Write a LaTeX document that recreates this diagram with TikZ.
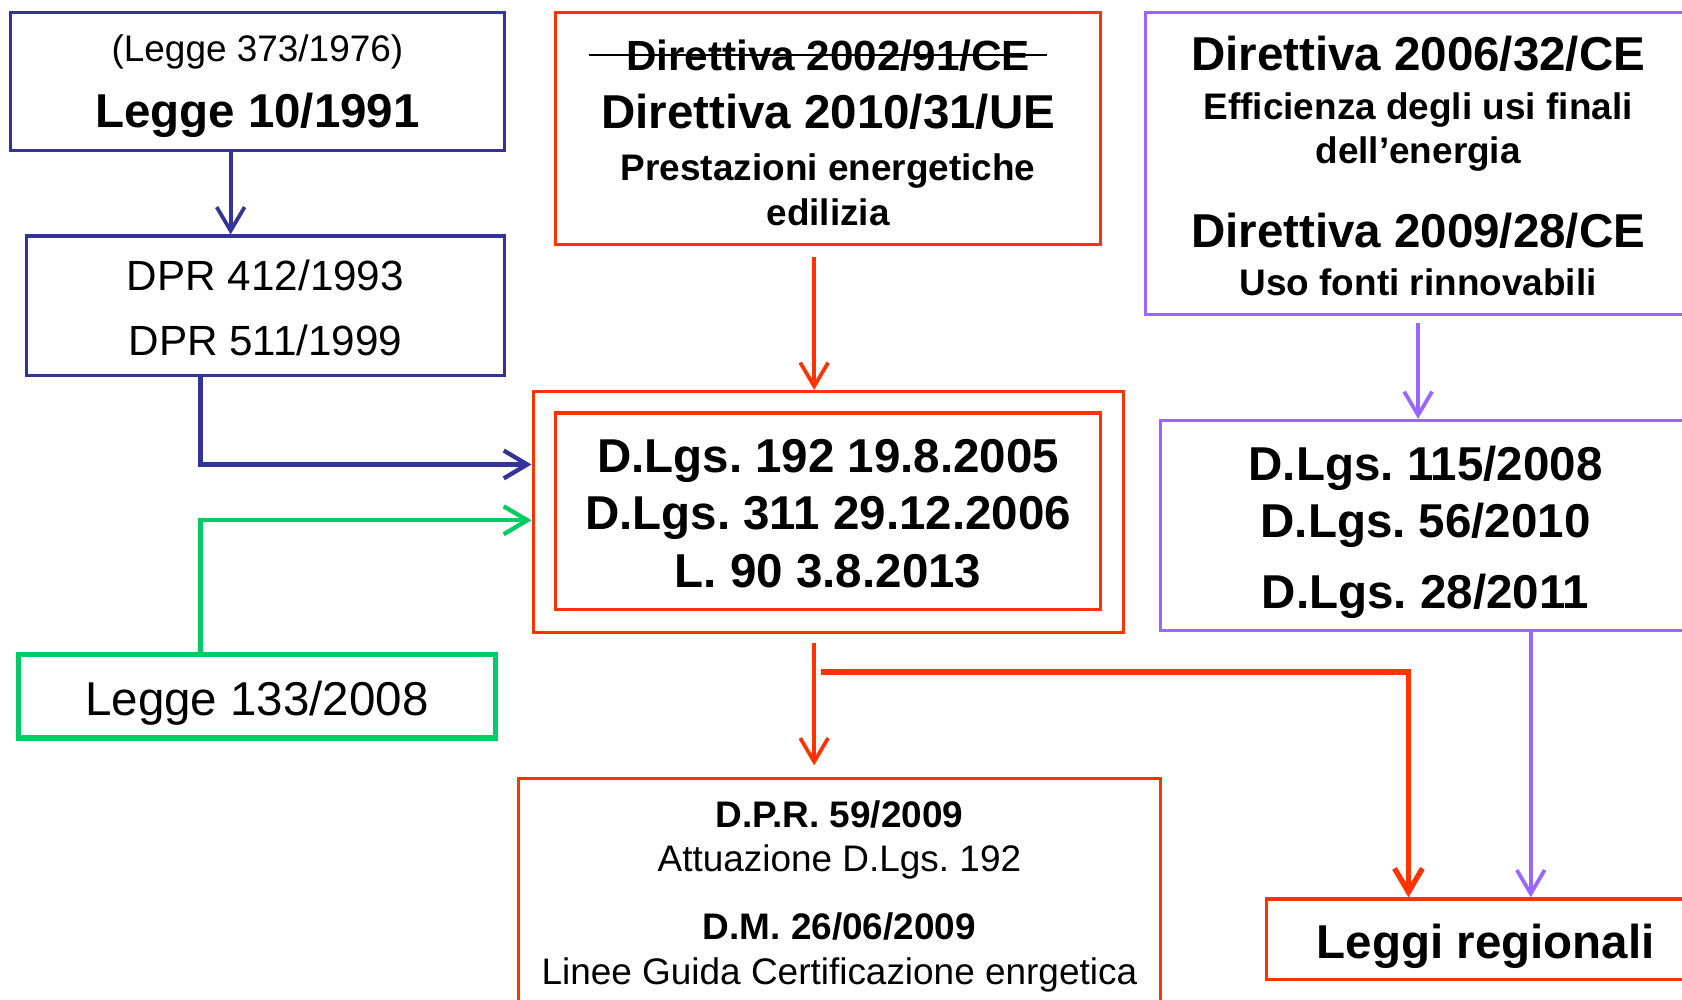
\documentclass[tikz,border=0pt]{standalone}
\usepackage{fontspec}
\setmainfont{Liberation Sans}
\usetikzlibrary{arrows.meta}
\frenchspacing
\definecolor{navy}{HTML}{333399}
\definecolor{rosso}{HTML}{FF3300}
\definecolor{viola}{HTML}{9966FF}
\definecolor{verde}{HTML}{00CC66}
\newcommand{\txtS}{\fontsize{9.8}{0}\selectfont}
\newcommand{\txtM}{\fontsize{11.2}{0}\selectfont}
\newcommand{\txtL}{\fontsize{12.6}{0}\selectfont}
\newcommand{\tightlines}{\baselineskip=0pt\lineskiplimit=-100pt\lineskip=0pt}
\newcommand{\struck}[1]{\makebox[0pt][l]{\hspace{-3.5mm}\rule[1.4mm]{42.7mm}{0.2mm}}#1}

\begin{document}
\begin{tikzpicture}[x=0.1mm,y=-0.1mm,
  >={Straight Barb[length=2.2mm,width=2.6mm]},
  box/.style={draw,line width=0.3mm,inner sep=0pt,align=center,text=black,font=\tightlines},
  link/.style={->,line width=0.35mm}]
\useasboundingbox (0,0) rectangle (1568,932);
\clip (0,0) rectangle (1568,932);

\node[box,draw=navy,minimum width=46mm,minimum height=12.8mm] (leggeA) at (240,76) {{}\\[2.44mm]\txtS (Legge 373/1976)\\[6.15mm]\txtL\bfseries Legge 10/1991\\[0mm]{}};
\node[box,draw=navy,minimum width=44.5mm,minimum height=13mm] (dpr) at (247.5,285) {{}\\[3.22mm]\txtM DPR 412/1993\\[6mm]\txtM DPR 511/1999\\[0mm]{}};
\node[box,draw=verde,line width=0.5mm,minimum width=44.5mm,minimum height=7.8mm] (leggeC) at (239.5,649) {{}\\[3.58mm]\txtL Legge 133/2008\\[0mm]{}};

\node[box,draw=rosso,minimum width=50.8mm,minimum height=21.6mm] (dirA) at (772,120) {{}\\[3.65mm]\txtM\bfseries\struck{Direttiva 2002/91/CE}\\[5.38mm]\txtL\bfseries Direttiva 2010/31/UE\\[4.85mm]\txtS\bfseries Prestazioni energetiche\\[4.2mm]\txtS\bfseries edilizia\\[0mm]{}};
\node[box,draw=rosso,minimum width=55mm,minimum height=22.5mm] (dlgsOut) at (772,477.5) {};
\node[box,draw=rosso,minimum width=50.8mm,minimum height=18.3mm] (dlgsIn) at (772,476.5) {{}\\[3.58mm]\txtL\bfseries D.Lgs. 192 19.8.2005\\[5.3mm]\txtL\bfseries D.Lgs. 311 29.12.2006\\[5.4mm]\txtL\bfseries L. 90 3.8.2013\\[0mm]{}};
\node[box,draw=rosso,minimum width=59.9mm,minimum height=21.2mm] (dprC) at (782.5,832) {{}\\[2.48mm]\txtS\bfseries D.P.R. 59/2009\\[4.1mm]\txtS Attuazione D.Lgs. 192\\[6.3mm]\txtS\bfseries D.M. 26/06/2009\\[4.2mm]\txtS Linee Guida Certificazione enrgetica\\[0mm]{}};

\node[box,draw=viola,minimum width=50.8mm,minimum height=28.1mm] (dirB) at (1322,152.5) {{}\\[3.63mm]\txtL\bfseries Direttiva 2006/32/CE\\[4.55mm]\txtS\bfseries Efficienza degli usi finali\\[4.1mm]\txtS\bfseries dell’energia\\[7.85mm]\txtL\bfseries Direttiva 2009/28/CE\\[4.45mm]\txtS\bfseries Uso fonti rinnovabili\\[0mm]{}};
\node[box,draw=viola,minimum width=49.4mm,minimum height=19.6mm] (dlgsB) at (1329,490) {{}\\[3.48mm]\txtL\bfseries D.Lgs. 115/2008\\[5.3mm]\txtL\bfseries D.Lgs. 56/2010\\[6.6mm]\txtL\bfseries D.Lgs. 28/2011\\[0mm]{}};
\node[box,draw=rosso,minimum width=40.8mm,minimum height=7.5mm] (leggiReg) at (1385,875.5) {{}\\[3.68mm]\txtL\bfseries Leggi regionali\\[0mm]{}};

\draw[link,navy] ([xshift=-2.5mm]leggeA.south) coordinate (a1) -- (a1 |- dpr.north);
\draw[link,navy,line width=0.4mm] ([xshift=-6.05mm]dpr.south) |- ([yshift=4.45mm]dlgsOut.west);
\draw[link,verde,line width=0.4mm] ([xshift=-5.25mm]leggeC.north) |- ([yshift=-0.75mm]dlgsOut.west);
\draw[link,rosso,shorten <=1mm] ([xshift=-1.3mm]dirA.south) -- ([xshift=-1.3mm]dlgsOut.north);
\draw[link,viola,shorten <=0.7mm] (dirB.south) -- (dirB.south |- dlgsB.north);
\draw[link,rosso,shorten <=0.8mm,shorten >=1.1mm] ([xshift=-1.3mm]dlgsOut.south) coordinate (r1) -- (r1 |- dprC.north);
\coordinate (fork) at ([xshift=-0.7mm,yshift=-3.5mm]dlgsOut.south);
\draw[link,rosso,line width=0.5mm] (fork) -| ([xshift=-7.2mm]leggiReg.north);
\draw[link,viola] ([xshift=9.8mm]dlgsB.south) coordinate (v1) -- (v1 |- leggiReg.north);
\end{tikzpicture}
\end{document}
